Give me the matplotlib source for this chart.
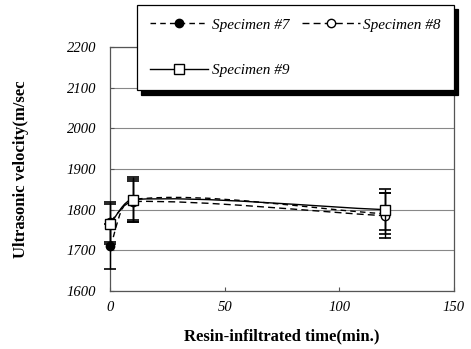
import numpy as np
import matplotlib
matplotlib.use("Agg")
import matplotlib.pyplot as plt
from matplotlib.lines import Line2D
from matplotlib.path import Path
from matplotlib.patches import PathPatch

times = [0, 10, 120]
spec7 = [1710, 1825, 1790]
spec8 = [1770, 1820, 1785]
spec9 = [1765, 1825, 1800]
err7 = [55, 55, 50]
err8 = [50, 50, 55]
err9 = [50, 50, 50]
labels = ["Specimen #7", "Specimen #8", "Specimen #9"]
xticks = [0, 50, 100, 150]
yticks = [1600, 1700, 1800, 1900, 2000, 2100, 2200]

plt.rcParams['font.family'] = ['Liberation Serif', 'DejaVu Serif']

fig = plt.figure(figsize=(4.71, 3.49), dpi=100)
ax = fig.add_axes([110/471, 58/349, 344/471, 244/349])
ax.set_xlim(0, 150)
ax.set_ylim(1600, 2200)

# scale factors (pixels per data unit) for smoothing in screen space
sx, sy = 344/150, 244/600


def smooth_path(xs, ys, k=0.28):
    P = np.array([[x*sx, y*sy] for x, y in zip(xs, ys)])
    n = len(P)
    verts = [P[0]]
    codes = [Path.MOVETO]
    def tangent(i):
        a = P[max(i-1, 0)]
        b = P[min(i+1, n-1)]
        d = b - a
        return d/np.linalg.norm(d)
    for i in range(n-1):
        L = np.linalg.norm(P[i+1]-P[i])
        c1 = P[i] + tangent(i)*L*k
        c2 = P[i+1] - tangent(i+1)*L*k
        verts += [c1, c2, P[i+1]]
        codes += [Path.CURVE4]*3
    verts = np.array(verts)
    verts[:, 0] /= sx
    verts[:, 1] /= sy
    return Path(verts, codes)


styles = [
    dict(ls=(0, (4, 3)), marker='o', mfc='black', ms=6),
    dict(ls=(0, (5, 3)), marker='o', mfc='white', ms=6),
    dict(ls='-', marker='s', mfc='white', ms=6.5),
]
series = [spec7, spec8, spec9]
errs = [err7, err8, err9]

for ys, es, st, z in zip(series, errs, styles, [3, 4, 5]):
    p = smooth_path(times, ys)
    ax.add_patch(PathPatch(p, fill=False, edgecolor='black', lw=1.0,
                           linestyle=st['ls'], zorder=z, clip_on=False))
    eb = ax.errorbar(times, ys, yerr=es, fmt='none', ecolor='black',
                     elinewidth=1.0, capsize=4, capthick=1.2, zorder=z)
    for art in eb.lines[1] + eb.lines[2]:
        art.set_clip_on(False)
    ax.plot(times, ys, ls='none', marker=st['marker'], mfc=st['mfc'],
            mec='black', mew=1.0, ms=st['ms'], zorder=z+0.5, clip_on=False)

ax.set_yticks(yticks)
ax.set_xticks(xticks)
ax.yaxis.grid(True, color='#888888', lw=0.8)
ax.set_axisbelow(True)
for s in ax.spines.values():
    s.set_color('#555555')
    s.set_linewidth(0.9)
ax.tick_params(axis='both', direction='in', length=3, color='#555555',
               labelsize=10.5)
ax.tick_params(axis='y', pad=10)
ax.tick_params(axis='x', pad=7)
for t in ax.get_xticklabels() + ax.get_yticklabels():
    t.set_fontstyle('italic')

ax.set_xlabel("Resin-infiltrated time(min.)", fontsize=12, fontweight='bold')
ax.set_ylabel("Ultrasonic velocity(m/sec", fontsize=12, fontweight='bold')
ax.xaxis.set_label_coords(0.5, (291-328)/244)
ax.yaxis.set_label_coords((29-110)/344, 0.5)

handles = [Line2D([], [], color='black', lw=1.0, linestyle=st['ls'],
                  marker=st['marker'], mfc=st['mfc'], mec='black',
                  ms=st['ms']) for st in styles]
order = [0, 2, 1]
leg = fig.legend([handles[i] for i in order], [labels[i] for i in order],
                 ncol=2, loc='upper left',
                 bbox_to_anchor=(137/471, 344/349),
                 bbox_transform=fig.transFigure,
                 fancybox=False, framealpha=1, edgecolor='black',
                 shadow={'color': 'black', 'alpha': 1, 'ox': 3, 'oy': -3},
                 prop={'style': 'italic', 'size': 11},
                 handlelength=3.8, borderpad=0.85, labelspacing=2.1,
                 columnspacing=0.8, handletextpad=0.25,
                 borderaxespad=0)
leg.get_frame().set_linewidth(0.9)

fig.savefig("out.png", dpi=100)
